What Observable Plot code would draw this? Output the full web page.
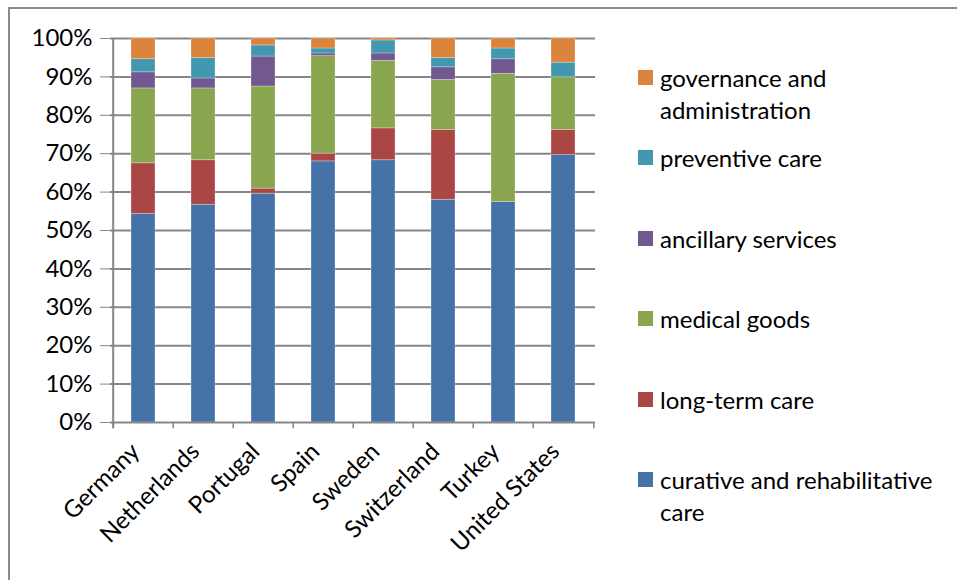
<!DOCTYPE html>
<html>
<head>
<meta charset="utf-8">
<script src="https://cdn.jsdelivr.net/npm/d3@7"></script>
<script src="https://cdn.jsdelivr.net/npm/@observablehq/plot@0.6"></script>
<style>
  html, body { margin: 0; padding: 0; background: #fff; overflow: hidden; }
  #wrap { position: relative; width: 957px; height: 580px; font-family: Lato, "Open Sans", sans-serif; }
  #frame { position: absolute; left: 8px; top: 7px; width: 1000px; height: 1000px; border: 2px solid #8a8a8a; box-sizing: border-box; pointer-events: none; }
  #chart { position: absolute; left: 0; top: 0; }
  #legend { position: absolute; left: 0; top: 0; }
  .item { position: absolute; left: 638px; font-size: 24px; line-height: 32px; color: #000; }
  .sw { position: absolute; left: 0; width: 15px; height: 15px; top: 8px; }
  .tx { position: absolute; left: 22px; white-space: nowrap; }
  svg text { font-family: Lato, "Open Sans", sans-serif; }
</style>
</head>
<body>
<div id="wrap">
  <div id="frame"></div>
  <div id="chart"></div>
  <div id="legend"></div>
</div>
<script>
const countries = ["Germany", "Netherlands", "Portugal", "Spain", "Sweden", "Switzerland", "Turkey", "United States"];
const categories = ["curative and rehabilitative care", "long-term care", "medical goods", "ancillary services", "preventive care", "governance and administration"];
const colors = ["#4572A7", "#AA4643", "#89A54E", "#71588F", "#4198AF", "#DB843D"];

const curative   = [54.3, 56.7, 59.6, 68.0, 68.3, 58.0, 57.4, 69.7];
const longTerm   = [13.2, 11.6,  1.3,  2.0,  8.3, 18.2,  0.0,  6.5];
const medical    = [19.5, 18.7, 26.6, 25.4, 17.6, 13.0, 33.4, 13.7];
const ancillary  = [ 4.2,  2.6,  7.8,  0.7,  1.9,  3.3,  3.8,  0.0];
const preventive = [ 3.4,  5.3,  2.9,  1.3,  3.4,  2.4,  2.8,  3.8];
const governance = [ 5.4,  5.1,  1.8,  2.6,  0.5,  5.1,  2.6,  6.3];

const yTicks = [0, 10, 20, 30, 40, 50, 60, 70, 80, 90, 100];

const series = [curative, longTerm, medical, ancillary, preventive, governance];
const rows = [];
series.forEach((vals, si) => {
  vals.forEach((v, ci) => rows.push({country: countries[ci], category: categories[si], value: v}));
});

const W = 957, H = 580;
const mL = 110, mR = 362, mT = 38, mB = 158;
const half = (W - mL - mR) / countries.length / 2;
const gray = "#868686";

const chart = Plot.plot({
  width: W,
  height: H,
  marginLeft: mL,
  marginRight: mR,
  marginTop: mT,
  marginBottom: mB,
  style: {fontSize: "24px", fontFamily: "Lato, 'Open Sans', sans-serif", color: "#000", background: "transparent"},
  x: {domain: countries, paddingInner: 0.6, paddingOuter: 0.3, label: null},
  y: {domain: [0, 100], label: null},
  color: {domain: categories, range: colors},
  marks: [
    Plot.ruleY(yTicks.slice(1), {stroke: gray, strokeWidth: 2}),
    Plot.barY(rows, Plot.stackY({x: "country", y: "value", fill: "category", z: "category", order: categories, stroke: "#ffffff", strokeOpacity: 0.35, strokeWidth: 0.8})),
    Plot.ruleY([0], {stroke: gray, strokeWidth: 2}),
    Plot.ruleX([countries[0]], {y1: -1.6, y2: 100, dx: -half, stroke: gray, strokeWidth: 2}),
    Plot.ruleX(countries, {y1: 0, y2: -1.6, dx: -half, stroke: gray, strokeWidth: 1.5}),
    Plot.ruleX([countries[countries.length - 1]], {y1: 0, y2: -1.6, dx: half, stroke: gray, strokeWidth: 1.5}),
    Plot.axisY({ticks: yTicks, tickSize: 10, tickPadding: 8, tickFormat: d => d + "%", stroke: gray, fill: "#000", fontSize: 24}),
    Plot.axisX({tickSize: 0, tickPadding: 20, tickRotate: -45, dx: -8, dy: 5, fill: "#000", fontSize: 24})
  ]
});
document.getElementById("chart").appendChild(chart);

// legend (top to bottom = reverse stacking order)
const legendEl = document.getElementById("legend");
const legendLines = {
  "governance and administration": ["governance and", "administration"],
  "curative and rehabilitative care": ["curative and rehabilitative", "care"]
};
const legendTop = 62;
const legendStep = 80.4;
categories.slice().reverse().forEach((c, i) => {
  const idx = categories.indexOf(c);
  const item = document.createElement("div");
  item.className = "item";
  item.style.top = (legendTop + i * legendStep) + "px";
  const sw = document.createElement("div");
  sw.className = "sw";
  sw.style.background = colors[idx];
  const tx = document.createElement("div");
  tx.className = "tx";
  tx.innerHTML = (legendLines[c] || [c]).join("<br>");
  item.appendChild(sw);
  item.appendChild(tx);
  legendEl.appendChild(item);
});
</script>
</body>
</html>
